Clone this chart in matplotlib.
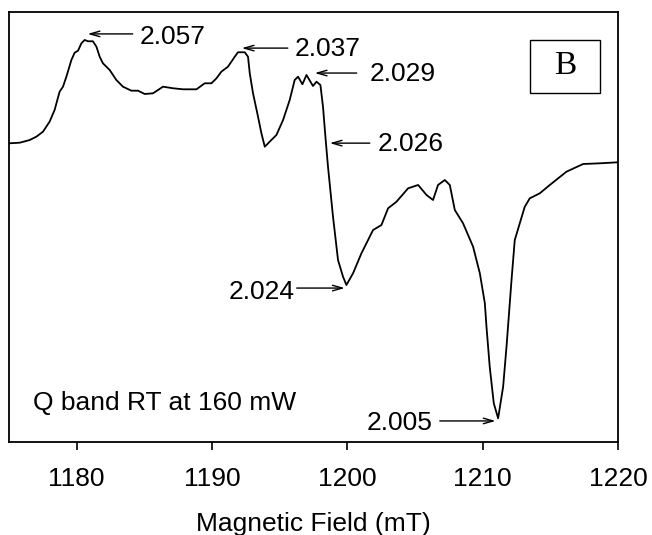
import matplotlib
matplotlib.use('Agg')
import matplotlib.pyplot as plt
from matplotlib.patches import Rectangle

plt.rcParams['font.family'] = ['Liberation Sans', 'DejaVu Sans']

# EPR spectrum (field in mT, signal in arbitrary units)
field = [1175.05, 1175.79, 1176.53, 1177.02, 1177.51, 1178.00, 1178.37, 1178.74,
         1178.99, 1179.24, 1179.61, 1179.85, 1180.10, 1180.35, 1180.59, 1180.84,
         1181.20, 1181.46, 1181.70, 1181.94, 1182.44, 1182.93, 1183.42, 1184.04,
         1184.53, 1185.03, 1185.64, 1186.01, 1186.38, 1187.12, 1187.86, 1188.85,
         1189.46, 1189.96, 1190.33, 1190.69, 1191.18, 1191.68, 1191.92, 1192.42,
         1192.66, 1192.79, 1193.03, 1193.40, 1193.65, 1193.90, 1194.26, 1194.76,
         1195.25, 1195.74, 1196.11, 1196.36, 1196.68, 1196.98, 1197.46, 1197.72,
         1198.01, 1198.20, 1198.40, 1198.57, 1198.94, 1199.31, 1199.68, 1199.93,
         1200.42, 1201.04, 1201.90, 1202.52, 1203.01, 1203.63, 1204.49, 1205.23,
         1205.85, 1206.33, 1206.70, 1207.20, 1207.57, 1207.94, 1208.55, 1209.29,
         1209.79, 1210.16, 1210.28, 1210.52, 1210.82, 1211.14, 1211.51, 1211.76,
         1212.13, 1212.37, 1212.74, 1213.11, 1213.48, 1214.22, 1214.96, 1216.19,
         1217.42, 1218.66, 1220.0]
signal = [69.47, 69.60, 70.23, 71.0, 72.16, 74.49, 77.21, 81.47,
          82.63, 84.95, 88.84, 90.53, 91.0, 92.72, 93.49, 93.19,
          93.19, 91.93, 89.60, 88.07, 86.51, 84.19, 82.63, 81.70,
          81.70, 80.93, 81.09, 81.86, 82.63, 82.26, 82.02, 82.02,
          83.42, 83.42, 84.58, 86.12, 87.28, 89.60, 90.63, 90.63,
          89.60, 85.74, 81.09, 75.65, 71.79, 68.67, 69.84, 71.40,
          74.88, 79.53, 84.19, 84.95, 83.19, 85.35, 82.79, 83.79,
          83.02, 77.98, 70.23, 64.02, 52.40, 42.33, 38.44, 36.51,
          39.23, 43.88, 49.30, 50.47, 54.35, 55.88, 59.0, 59.77,
          57.44, 56.28, 59.77, 60.93, 59.77, 53.95, 50.86, 45.42,
          39.23, 32.26, 26.81, 17.51, 9.0, 5.51, 12.86, 22.16,
          37.67, 46.98, 50.86, 54.72, 56.67, 57.84, 59.77, 62.86,
          64.65, 64.81, 65.05]

# g-value labels: text, arrow tip, arrow tail, text anchor, alignment
g_labels = ['2.057', '2.037', '2.029', '2.026', '2.024', '2.005']
tips = [(1180.81, 94.9), (1192.2, 91.6), (1197.59, 85.8),
        (1198.70, 69.5), (1199.81, 35.8), (1210.95, 4.9)]
tails = [(1184.14, 94.9), (1195.6, 91.6), (1200.69, 85.8),
         (1201.66, 69.5), (1196.26, 35.8), (1206.83, 4.9)]
text_pos = [(1184.66, 94.2), (1196.11, 91.4), (1201.66, 85.6),
            (1202.25, 69.3), (1196.11, 34.9), (1206.31, 4.4)]
text_ha = ['left', 'left', 'left', 'left', 'right', 'right']

fig = plt.figure(figsize=(6.52, 5.35), dpi=100)
ax = fig.add_axes([0.0138, 0.1738, 0.9341, 0.8038])

ax.plot(field, signal, color='black', lw=1.3)

for lab, tip, tail, tp, ha in zip(g_labels, tips, tails, text_pos, text_ha):
    ax.annotate('', xy=tip, xytext=tail,
                arrowprops=dict(arrowstyle='->,head_length=0.7,head_width=0.2',
                                color='black', lw=1.0, shrinkA=0, shrinkB=0))
    ax.text(tp[0], tp[1], lab, ha=ha, va='center', fontsize=19)

ax.text(0.039, 0.091, 'Q band RT at 160 mW', transform=ax.transAxes,
        ha='left', va='center', fontsize=19)

ax.add_patch(Rectangle((0.8555, 0.8116), 0.115, 0.1233, transform=ax.transAxes,
                       fill=False, edgecolor='black', lw=1.0))
ax.text(0.913, 0.874, 'B', transform=ax.transAxes, ha='center', va='center',
        fontsize=24, family=['Liberation Serif', 'DejaVu Serif'])

ax.set_xlim(1175, 1220)
ax.set_ylim(0, 100)
ax.set_xticks([1180, 1190, 1200, 1210, 1220])
ax.set_yticks([])
ax.tick_params(axis='x', direction='out', length=6, width=1.2, pad=12,
               labelsize=19)
for s in ax.spines.values():
    s.set_linewidth(1.3)
ax.set_xlabel('Magnetic Field (mT)', fontsize=19, labelpad=15)

fig.savefig('out.png', dpi=100)
